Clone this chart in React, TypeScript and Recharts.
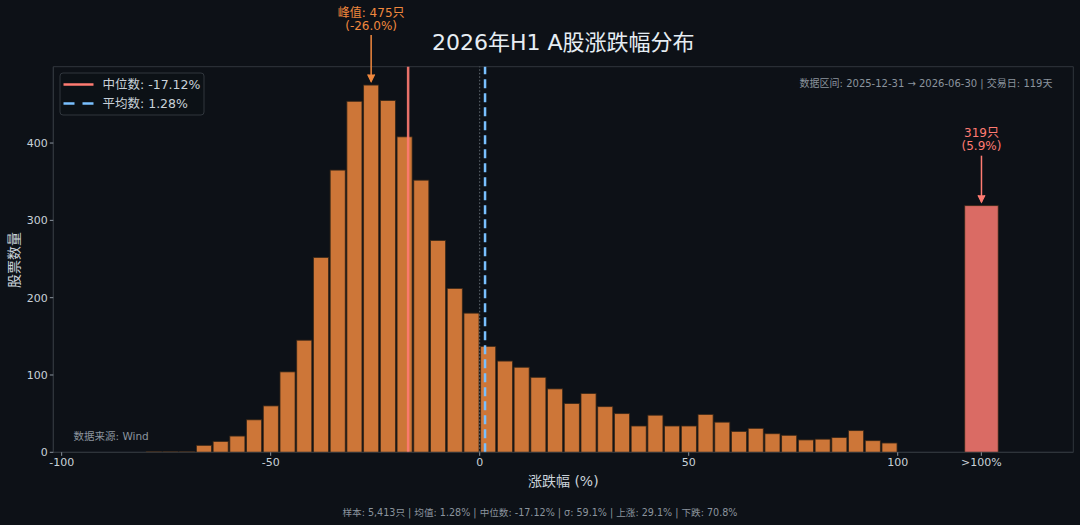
import React from 'react'
import {
  ComposedChart,
  Bar,
  XAxis,
  YAxis,
  ReferenceLine,
  ReferenceArea,
  LabelList,
} from 'recharts'

// lower edge of every 4% bin, and how many stocks fell in it
const binLow = [
  -80, -76, -72, -68, -64, -60, -56, -52, -48, -44, -40, -36, -32, -28, -24, -20, -16, -12, -8, -4,
  0, 4, 8, 12, 16, 20, 24, 28, 32, 36, 40, 44, 48, 52, 56, 60, 64, 68, 72, 76, 80, 84, 88, 92, 96,
]
const binCount = [
  1, 1, 1, 9, 14, 21, 42, 60, 104, 145, 252, 365, 454, 475, 455, 408, 352, 274, 212, 180,
  137, 118, 110, 97, 82, 63, 76, 59, 50, 34, 48, 34, 34, 49, 39, 27, 31, 24, 22, 16, 17, 19, 28, 15, 12,
]
const overflowPos = 120
const overflowCount = 319
const overflowShare = 5.9

const xTicks = [-100, -50, 0, 50, 100, 120]
const yTicks = [0, 100, 200, 300, 400]

const median = -17.12
const mean = 1.28
const peakCenter = -26.0

const BIN_WIDTH = 4
const OVER_WIDTH = 8
const X_MIN = -102
const X_MAX = 142
const Y_MAX = 498.75

const W = 1080
const H = 525
const PLOT_LEFT = 53.3
const PLOT_RIGHT = 6.7
const PLOT_TOP = 66.7
const PLOT_BOTTOM = 72.7
const PX_PER_UNIT = (W - PLOT_LEFT - PLOT_RIGHT) / (X_MAX - X_MIN)

const BG = '#0d1117'
const ORANGE = '#f0883e'
const RED = '#ff7b72'
const BLUE = '#79c0ff'
const SPINE = '#30363d'
const TEXT = '#c9d1d9'
const MUTED = '#8b949e'
const FONT = '"DejaVu Sans", "Noto Sans CJK SC", sans-serif'

const peakCount = Math.max(...binCount)

const data = [
  ...binLow.map((lo, i) => ({ x: lo + BIN_WIDTH / 2, count: binCount[i], over: false })),
  { x: overflowPos, count: overflowCount, over: true },
]

const HistBar = (props: any) => {
  const { x, y, width, height, payload } = props
  const cx = x + (width || 0) / 2
  const w = (payload.over ? OVER_WIDTH : BIN_WIDTH * 0.9) * PX_PER_UNIT
  return (
    <rect
      x={cx - w / 2}
      y={y}
      width={w}
      height={height}
      fill={payload.over ? RED : ORANGE}
      fillOpacity={0.85}
      stroke="#3a2818"
      strokeWidth={0.8}
    />
  )
}

const Callout = (props: any) => {
  const { x, y, width, index } = props
  const d = data[index]
  if (!d) return null
  let lines: string[] | null = null
  let color = ORANGE
  if (d.over) {
    lines = [`${d.count}只`, `(${overflowShare.toFixed(1)}%)`]
    color = RED
  } else if (d.count === peakCount) {
    lines = [`峰值: ${d.count}只`, `(${peakCenter.toFixed(1)}%)`]
  }
  if (!lines) return null
  const cx = x + (width || 0) / 2
  const tip = y - 3.5
  const start = y - 50
  return (
    <g>
      <text x={cx} y={y - 72.5} fill={color} fontSize={12} textAnchor="middle" dominantBaseline="central" fontFamily={FONT}>
        {lines[0]}
      </text>
      <text x={cx} y={y - 59.5} fill={color} fontSize={12} textAnchor="middle" dominantBaseline="central" fontFamily={FONT}>
        {lines[1]}
      </text>
      <line x1={cx} y1={start} x2={cx} y2={tip} stroke={color} strokeWidth={1.5} />
      <polyline
        points={`${cx - 3.5},${tip - 7} ${cx},${tip} ${cx + 3.5},${tip - 7}`}
        fill={color}
        stroke={color}
        strokeWidth={1.2}
      />
    </g>
  )
}

const fmtX = (v: number) => (v === overflowPos ? '>100%' : String(v))

export default function App() {
  const plotCx = PLOT_LEFT + (W - PLOT_LEFT - PLOT_RIGHT) / 2
  return (
    <div style={{ position: 'fixed', left: 0, top: 0, width: W, height: H, background: BG }}>
      <ComposedChart
        width={W}
        height={H}
        data={data}
        margin={{ top: PLOT_TOP, right: PLOT_RIGHT, left: 0, bottom: PLOT_BOTTOM - 30 }}
        barCategoryGap={0}
      >
        <ReferenceArea
          x1={X_MIN}
          x2={X_MAX}
          y1={0}
          y2={Y_MAX}
          fill="none"
          fillOpacity={0}
          stroke={SPINE}
          strokeWidth={1}
        />
        <XAxis
          dataKey="x"
          type="number"
          domain={[X_MIN, X_MAX]}
          ticks={xTicks}
          interval={0}
          tickFormatter={fmtX}
          height={30}
          axisLine={{ stroke: SPINE }}
          tickLine={{ stroke: MUTED }}
          tickSize={3.5}
          tick={{ fill: TEXT, fontSize: 11, fontFamily: FONT }}
        />
        <YAxis
          type="number"
          domain={[0, Y_MAX]}
          ticks={yTicks}
          interval={0}
          width={PLOT_LEFT}
          axisLine={{ stroke: SPINE }}
          tickLine={{ stroke: MUTED }}
          tickSize={3.5}
          tick={{ fill: TEXT, fontSize: 11, fontFamily: FONT }}
        />
        <Bar dataKey="count" shape={HistBar} isAnimationActive={false}>
          <LabelList dataKey="count" content={Callout} />
        </Bar>
        <ReferenceLine x={0} stroke={MUTED} strokeOpacity={0.7} strokeWidth={1} strokeDasharray="1.5 2" />
        <ReferenceLine x={median} stroke={RED} strokeOpacity={0.9} strokeWidth={2.5} />
        <ReferenceLine x={mean} stroke={BLUE} strokeWidth={2.5} strokeDasharray="9 5" />
      </ComposedChart>

      <svg
        width={W}
        height={H}
        style={{ position: 'absolute', left: 0, top: 0, pointerEvents: 'none' }}
        fontFamily={FONT}
      >
        <text x={plotCx} y={42} fill="#e6edf3" fontSize={22} textAnchor="middle" dominantBaseline="central">
          2026年H1 A股涨跌幅分布
        </text>

        <rect x={60} y={73} width={144} height={42} rx={3} fill={BG} fillOpacity={0.8} stroke={SPINE} strokeWidth={1} />
        <line x1={63.5} y1={84.5} x2={93.5} y2={84.5} stroke={RED} strokeWidth={2.5} />
        <text x={102.5} y={84.5} fill={TEXT} fontSize={12.5} dominantBaseline="central">
          中位数: {median.toFixed(2)}%
        </text>
        <line x1={63.5} y1={103.5} x2={93.5} y2={103.5} stroke={BLUE} strokeWidth={2.5} strokeDasharray="11 8" />
        <text x={102.5} y={103.5} fill={TEXT} fontSize={12.5} dominantBaseline="central">
          平均数: {mean.toFixed(2)}%
        </text>

        <text x={1052.5} y={83.5} fill={MUTED} fontSize={10} textAnchor="end" dominantBaseline="central">
          数据区间: 2025-12-31 → 2026-06-30 | 交易日: 119天
        </text>
        <text x={73.5} y={436} fill={MUTED} fontSize={10.5} dominantBaseline="central">
          数据来源: Wind
        </text>

        <text
          x={13.5}
          y={260}
          fill={TEXT}
          fontSize={14}
          textAnchor="middle"
          dominantBaseline="central"
          transform="rotate(-90 13.5 260)"
        >
          股票数量
        </text>
        <text x={plotCx} y={481} fill={TEXT} fontSize={14} textAnchor="middle" dominantBaseline="central">
          涨跌幅 (%)
        </text>
        <text x={540} y={512} fill={MUTED} fontSize={9.6} textAnchor="middle" dominantBaseline="central">
          样本: 5,413只 | 均值: 1.28% | 中位数: -17.12% | σ: 59.1% | 上涨: 29.1% | 下跌: 70.8%
        </text>
      </svg>
    </div>
  )
}
